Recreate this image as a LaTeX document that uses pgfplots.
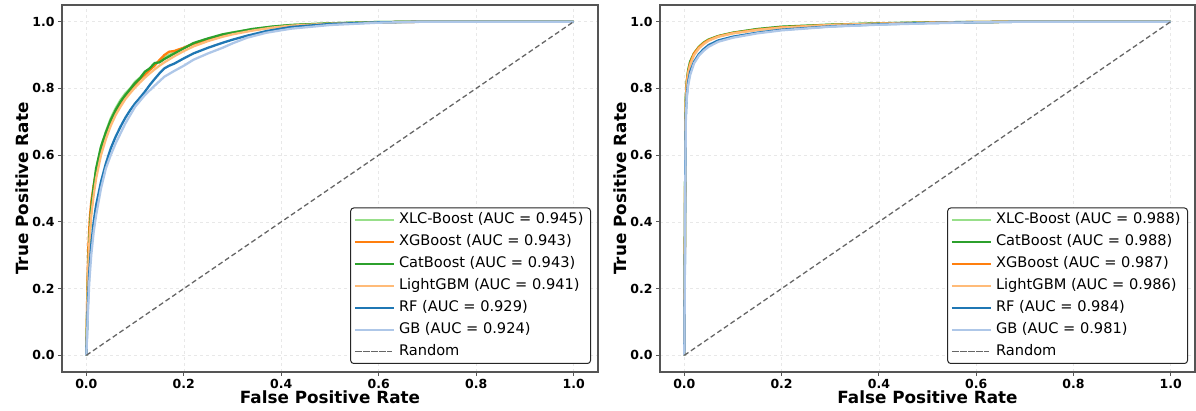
\documentclass[border=0pt]{standalone}
\usepackage{pgfplots}
\pgfplotsset{compat=1.18}
\usepackage{fontspec}
\setmainfont{DejaVu Sans}
\definecolor{cxlc}{HTML}{98DF8A}
\definecolor{cxgb}{HTML}{FF7F0E}
\definecolor{ccat}{HTML}{2CA02C}
\definecolor{clgb}{HTML}{FFBB78}
\definecolor{crf}{HTML}{1F77B4}
\definecolor{cgb}{HTML}{AEC7E8}
\definecolor{cframe}{HTML}{555555}
\pgfplotsset{
  rocaxis/.style={
    scale only axis, width=536pt, height=367pt,
    xmin=-0.05, xmax=1.05, ymin=-0.05, ymax=1.05,
    xtick={0,0.2,0.4,0.6,0.8,1.0}, ytick={0,0.2,0.4,0.6,0.8,1.0},
    xtick pos=bottom, ytick pos=left,
    xticklabel style={/pgf/number format/.cd,fixed,fixed zerofill,precision=1},
    yticklabel style={/pgf/number format/.cd,fixed,fixed zerofill,precision=1},
    /pgf/number format/assume math mode=true,
    ticklabel style={font=\bfseries\fontsize{12.5}{14}\selectfont},
    label style={font=\bfseries\fontsize{16.8}{19}\selectfont},
    xlabel={False Positive Rate}, ylabel={True Positive Rate},
    xlabel style={yshift=5pt}, ylabel style={yshift=-3pt},
    grid=major, major grid style={dashed, gray!18, line width=0.6pt},
    axis line style={cframe, line width=1.1pt},
    tick align=outside, major tick length=4pt, tick style={cframe, line width=0.8pt},
    every axis plot/.append style={line width=2.3pt, line join=round},
    legend cell align=left,
    legend image code/.code={\path (-2pt,0pt) -- (37pt,0pt); \draw[##1] (0pt,0pt) -- (32pt,0pt);},
    legend style={at={(1,0)}, anchor=south east, xshift=-7pt, yshift=8pt,
      font=\fontsize{14.6}{16}\selectfont, draw=black!85, line width=1pt,
      rounded corners=3pt, fill=white, row sep=0.5pt, inner xsep=3pt, inner ysep=1pt,
      nodes={inner xsep=4pt, inner ysep=3.5pt, text height=11pt, text depth=3.5pt}},
  }
}
\begin{document}
\begin{tikzpicture}
\path (0,0) rectangle (1196pt,411pt);
\begin{axis}[rocaxis, at={(62pt,39pt)}, anchor=south west]
\addplot[cxlc] coordinates {(0,0) (0.002,0.16) (0.004,0.28) (0.007,0.37) (0.01,0.43) (0.015,0.50) (0.02,0.555) (0.03,0.625) (0.04,0.67) (0.05,0.71) (0.06,0.74) (0.07,0.765) (0.08,0.785) (0.09,0.80) (0.10,0.82) (0.11,0.832) (0.12,0.848) (0.13,0.858) (0.14,0.872) (0.15,0.882) (0.16,0.893) (0.18,0.908) (0.20,0.922) (0.22,0.934) (0.25,0.948) (0.28,0.962) (0.30,0.968) (0.34,0.977) (0.38,0.985) (0.42,0.99) (0.5,0.995) (0.6,0.999) (0.7,1) (1,1)};
\addlegendentry{XLC-Boost (AUC = 0.945)}
\addplot[cxgb] coordinates {(0,0) (0.002,0.2) (0.004,0.32) (0.007,0.41) (0.01,0.46) (0.015,0.51) (0.02,0.55) (0.03,0.61) (0.04,0.655) (0.05,0.695) (0.06,0.725) (0.07,0.75) (0.08,0.772) (0.09,0.79) (0.10,0.81) (0.11,0.828) (0.12,0.84) (0.13,0.855) (0.14,0.868) (0.15,0.885) (0.16,0.9) (0.17,0.91) (0.18,0.912) (0.20,0.922) (0.22,0.934) (0.25,0.946) (0.28,0.958) (0.30,0.965) (0.34,0.975) (0.38,0.983) (0.42,0.989) (0.5,0.994) (0.6,0.998) (0.7,1) (1,1)};
\addlegendentry{XGBoost (AUC = 0.943)}
\addplot[ccat] coordinates {(0,0) (0.002,0.15) (0.004,0.27) (0.007,0.37) (0.01,0.44) (0.015,0.505) (0.02,0.56) (0.03,0.625) (0.04,0.668) (0.05,0.705) (0.06,0.735) (0.07,0.76) (0.08,0.78) (0.09,0.798) (0.10,0.816) (0.11,0.83) (0.12,0.85) (0.13,0.86) (0.14,0.876) (0.15,0.878) (0.16,0.888) (0.18,0.904) (0.20,0.92) (0.22,0.936) (0.25,0.95) (0.28,0.962) (0.30,0.967) (0.34,0.978) (0.38,0.985) (0.42,0.99) (0.5,0.995) (0.6,0.999) (0.7,1) (1,1)};
\addlegendentry{CatBoost (AUC = 0.943)}
\addplot[clgb] coordinates {(0,0) (0.002,0.16) (0.004,0.27) (0.007,0.36) (0.01,0.42) (0.015,0.48) (0.02,0.53) (0.03,0.6) (0.04,0.648) (0.05,0.688) (0.06,0.72) (0.07,0.745) (0.08,0.768) (0.09,0.786) (0.10,0.803) (0.11,0.818) (0.12,0.832) (0.13,0.845) (0.14,0.857) (0.15,0.868) (0.16,0.878) (0.18,0.896) (0.20,0.912) (0.22,0.926) (0.25,0.942) (0.28,0.955) (0.30,0.962) (0.34,0.973) (0.38,0.982) (0.42,0.988) (0.5,0.994) (0.6,0.998) (0.7,1) (1,1)};
\addlegendentry{LightGBM (AUC = 0.941)}
\addplot[crf] coordinates {(0,0) (0.003,0.15) (0.006,0.25) (0.01,0.33) (0.015,0.40) (0.02,0.45) (0.03,0.52) (0.04,0.575) (0.05,0.62) (0.06,0.655) (0.07,0.685) (0.08,0.712) (0.09,0.735) (0.10,0.755) (0.11,0.772) (0.12,0.79) (0.13,0.81) (0.14,0.828) (0.15,0.845) (0.16,0.86) (0.17,0.868) (0.18,0.874) (0.20,0.89) (0.22,0.905) (0.25,0.922) (0.28,0.937) (0.30,0.946) (0.33,0.958) (0.37,0.972) (0.42,0.984) (0.5,0.993) (0.6,0.998) (0.7,1) (1,1)};
\addlegendentry{RF (AUC = 0.929)}
\addplot[cgb] coordinates {(0,0) (0.003,0.12) (0.006,0.22) (0.01,0.30) (0.015,0.37) (0.02,0.42) (0.03,0.50) (0.04,0.56) (0.05,0.60) (0.06,0.635) (0.07,0.665) (0.08,0.695) (0.09,0.72) (0.10,0.745) (0.12,0.78) (0.14,0.808) (0.16,0.835) (0.18,0.852) (0.20,0.868) (0.22,0.886) (0.25,0.905) (0.28,0.922) (0.30,0.935) (0.33,0.952) (0.37,0.967) (0.42,0.979) (0.5,0.99) (0.6,0.997) (0.7,1) (1,1)};
\addlegendentry{GB (AUC = 0.924)}
\addplot[black!60, line width=1.3pt, dash pattern=on 5pt off 3pt] coordinates {(0,0) (1,1)};
\addlegendentry{Random}
\end{axis}
\begin{axis}[rocaxis, at={(660pt,39pt)}, anchor=south west, width=535pt]
\addplot[cxlc] coordinates {(0,0) (0.001,0.3) (0.002,0.62) (0.003,0.77) (0.005,0.82) (0.008,0.855) (0.012,0.88) (0.02,0.905) (0.03,0.925) (0.04,0.938) (0.05,0.947) (0.07,0.957) (0.1,0.967) (0.15,0.977) (0.2,0.984) (0.3,0.991) (0.4,0.995) (0.5,0.997) (0.6,0.999) (0.7,1) (1,1)};
\addlegendentry{XLC-Boost (AUC = 0.988)}
\addplot[ccat] coordinates {(0,0) (0.001,0.3) (0.002,0.62) (0.003,0.77) (0.005,0.82) (0.008,0.855) (0.012,0.88) (0.02,0.905) (0.03,0.924) (0.04,0.937) (0.05,0.946) (0.07,0.957) (0.1,0.967) (0.15,0.978) (0.2,0.985) (0.3,0.991) (0.4,0.995) (0.5,0.998) (0.6,0.999) (0.7,1) (1,1)};
\addlegendentry{CatBoost (AUC = 0.988)}
\addplot[cxgb] coordinates {(0,0) (0.001,0.3) (0.002,0.6) (0.003,0.76) (0.005,0.82) (0.008,0.85) (0.012,0.875) (0.02,0.905) (0.03,0.923) (0.04,0.936) (0.05,0.945) (0.07,0.956) (0.1,0.966) (0.15,0.976) (0.2,0.983) (0.3,0.99) (0.4,0.994) (0.5,0.997) (0.6,0.999) (0.7,1) (1,1)};
\addlegendentry{XGBoost (AUC = 0.987)}
\addplot[clgb] coordinates {(0,0) (0.001,0.28) (0.002,0.58) (0.003,0.75) (0.005,0.81) (0.008,0.845) (0.012,0.87) (0.02,0.9) (0.03,0.92) (0.04,0.933) (0.05,0.943) (0.07,0.955) (0.1,0.965) (0.15,0.975) (0.2,0.982) (0.3,0.99) (0.4,0.994) (0.5,0.997) (0.6,0.999) (0.7,1) (1,1)};
\addlegendentry{LightGBM (AUC = 0.986)}
\addplot[crf] coordinates {(0,0) (0.001,0.25) (0.002,0.55) (0.003,0.72) (0.005,0.78) (0.008,0.82) (0.012,0.85) (0.02,0.88) (0.03,0.903) (0.04,0.918) (0.05,0.93) (0.07,0.944) (0.1,0.955) (0.15,0.967) (0.2,0.976) (0.3,0.986) (0.4,0.992) (0.5,0.996) (0.6,0.998) (0.7,1) (1,1)};
\addlegendentry{RF (AUC = 0.984)}
\addplot[cgb] coordinates {(0,0) (0.001,0.22) (0.002,0.5) (0.003,0.7) (0.005,0.77) (0.008,0.81) (0.012,0.84) (0.02,0.875) (0.03,0.898) (0.04,0.913) (0.05,0.925) (0.07,0.94) (0.1,0.952) (0.15,0.965) (0.2,0.974) (0.3,0.985) (0.4,0.991) (0.5,0.995) (0.6,0.998) (0.7,1) (1,1)};
\addlegendentry{GB (AUC = 0.981)}
\addplot[black!60, line width=1.3pt, dash pattern=on 5pt off 3pt] coordinates {(0,0) (1,1)};
\addlegendentry{Random}
\end{axis}
\end{tikzpicture}
\end{document}
